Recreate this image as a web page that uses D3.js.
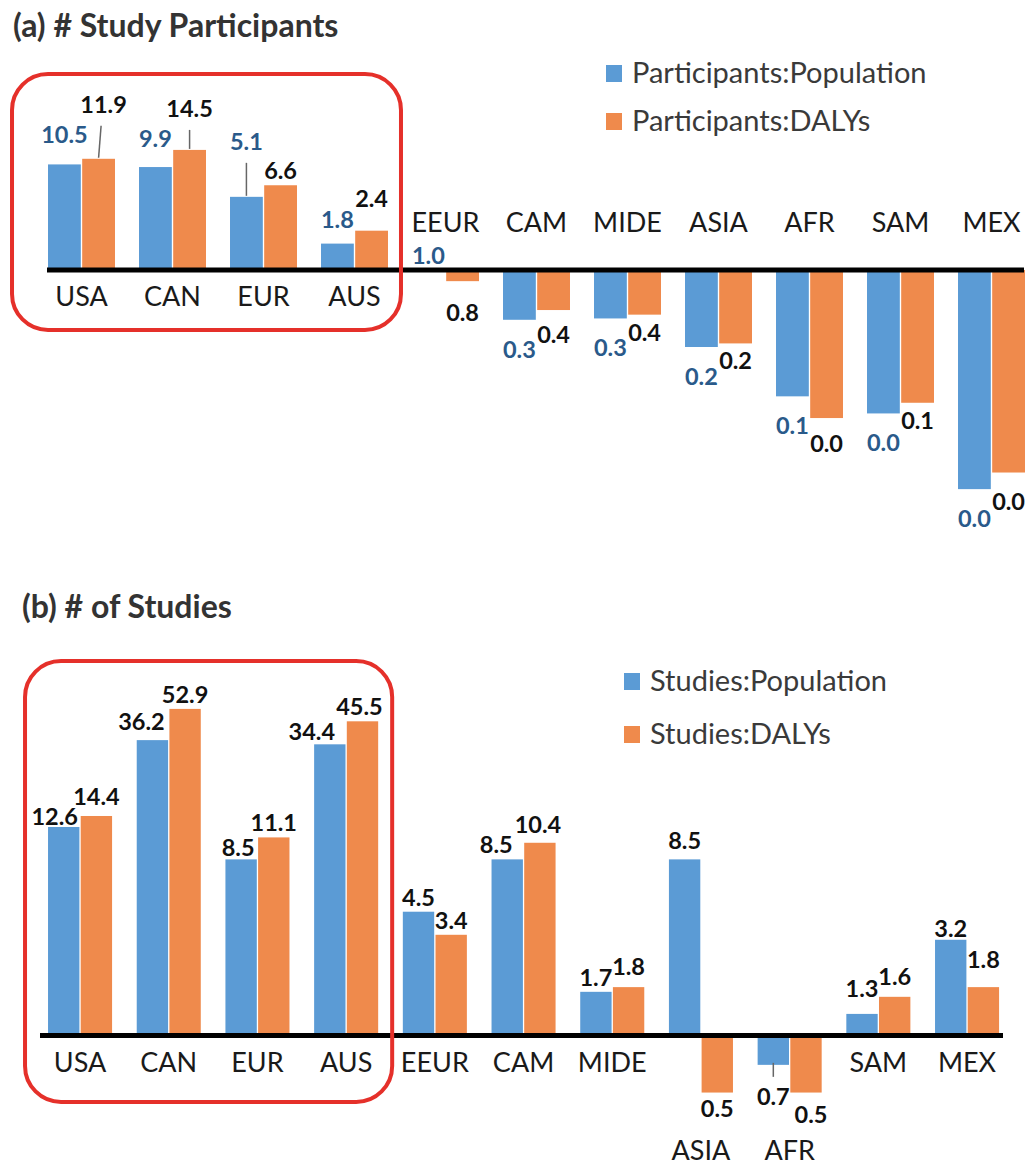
<!DOCTYPE html>
<html>
<head>
<meta charset="utf-8">
<script src="https://cdn.jsdelivr.net/npm/d3@7"></script>
<style>
  body { margin: 0; background: #fff; }
  svg { display: block; font-family: Lato, "Open Sans", sans-serif; }
</style>
</head>
<body>
<div id="chart"></div>
<script>
// regions, in the order of the figure
const regions = ['USA', 'CAN', 'EUR', 'AUS', 'EEUR', 'CAM', 'MIDE', 'ASIA', 'AFR', 'SAM', 'MEX'];
const highlighted = ['USA', 'CAN', 'EUR', 'AUS'];

// (a) participants ratios; labels show one decimal so the tiny ones read 0.0
const partPopulation = [10.5, 9.9, 5.1, 1.8, 1.0, 0.33, 0.34, 0.18, 0.06, 0.041, 0.0076];
const partDalys      = [11.9, 14.5, 6.6, 2.4, 0.78, 0.41, 0.37, 0.195, 0.037, 0.052, 0.011];

// (b) studies ratios
const studyPopulation = [12.6, 36.2, 8.5, 34.4, 4.5, 8.5, 1.7, 8.5, 0.7, 1.3, 3.2];
const studyDalys      = [14.4, 52.9, 11.1, 45.5, 3.4, 10.4, 1.8, 0.5, 0.5, 1.6, 1.8];

const legendA = ['Participants:Population', 'Participants:DALYs'];
const legendB = ['Studies:Population', 'Studies:DALYs'];

const colors = ['#5B9BD5', '#EF8A4C'];

// data labels were dragged by hand in the original: [dx, dy] from the default spot
const nudgesA = {
  'USA-0': [0, -15], 'USA-1': [5, -40], 'CAN-0': [0, -14], 'CAN-1': [0, -27],
  'EUR-0': [0, -41], 'AUS-0': [0, -10], 'AUS-1': [0, -18],
  'EEUR-1': [0, 14], 'CAM-1': [0, 7], 'AFR-1': [0, 8], 'MEX-1': [0, 11]
};
const nudgesB = {
  'USA-0': [-9, 4], 'USA-1': [0, -5], 'CAN-0': [-11, -4], 'EUR-0': [-3, 3],
  'AUS-0': [-18, 2], 'AUS-1': [-3, 0], 'CAM-0': [-11, 0], 'CAM-1': [-2, -4],
  'MIDE-1': [0, -6], 'ASIA-0': [0, -4], 'AFR-0': [0, 16], 'AFR-1': [5, 6],
  'SAM-0': [0, -11], 'SAM-1': [0, -6], 'MEX-0': [0, 3], 'MEX-1': [0, -13]
};

const panels = [
  {
    title: '(a) # Study Participants', titleX: 13, titleY: 37,
    series: [partPopulation, partDalys], legend: legendA,
    legendX: 606, legendY: 65, legendGap: 48,
    baseY: 270, decade: 103.4, xRange: [36, 1037], padInner: 0.264,
    axisX: [47, 1024], box: [74, 330, 36, 13],
    labelColors: ['#2A5A8A', '#111'], negOffset: [38, 26],
    nudges: nudgesA, leaders: ['USA-1', 'CAN-1', 'EUR-0'],
    negCats: 'above'
  },
  {
    title: '(b) # of Studies', titleX: 22, titleY: 618,
    series: [studyPopulation, studyDalys], legend: legendB,
    legendX: 624, legendY: 673, legendGap: 53,
    baseY: 1035.5, decade: 189.5, xRange: [35.7, 1011.4], padInner: 0.278,
    axisX: [40, 1003], box: [661, 1102, 23, 14],
    labelColors: ['#111', '#111'], negOffset: [24, 24],
    nudges: nudgesB, leaders: ['AFR-0'],
    negCats: 'bottom'
  }
];

const svg = d3.select('#chart').append('svg')
  .attr('width', 1029)
  .attr('height', 1165);

panels.forEach(function(p) {
  let g = svg.append('g');

  let x = d3.scaleBand()
    .domain(regions)
    .range(p.xRange)
    .paddingInner(p.padInner)
    .paddingOuter(p.padInner / 2);
  let xs = d3.scaleBand()
    .domain([0, 1])
    .range([0, x.bandwidth()])
    .paddingInner(0.04);
  // ratio 1 sits on the axis, one decade = p.decade px
  let y = d3.scaleLog()
    .domain([1, 10])
    .range([p.baseY, p.baseY - p.decade]);

  // title
  g.append('text')
    .attr('x', p.titleX)
    .attr('y', p.titleY)
    .attr('font-size', 32)
    .attr('font-weight', 'bold')
    .attr('fill', '#333')
    .text(p.title);

  // legend
  p.legend.forEach(function(name, i) {
    g.append('rect')
      .attr('x', p.legendX)
      .attr('y', p.legendY + i * p.legendGap)
      .attr('width', 16)
      .attr('height', 17)
      .attr('fill', colors[i]);
    g.append('text')
      .attr('x', p.legendX + 26)
      .attr('y', p.legendY + 18 + i * p.legendGap)
      .attr('font-size', 29)
      .attr('fill', '#3a3a3a')
      .text(name);
  });

  // bars
  let rows = [];
  regions.forEach(function(r, ci) {
    p.series.forEach(function(s, si) {
      rows.push({ region: r, s: si, v: s[ci] });
    });
  });

  g.selectAll('rect.bar').data(rows).enter().append('rect')
    .attr('class', 'bar')
    .attr('x', d => x(d.region) + xs(d.s))
    .attr('width', xs.bandwidth())
    .attr('y', d => Math.min(y(d.v), y(1)))
    .attr('height', d => Math.abs(y(d.v) - y(1)))
    .attr('fill', d => colors[d.s]);

  // axis line at ratio 1
  g.append('line')
    .attr('x1', p.axisX[0])
    .attr('x2', p.axisX[1])
    .attr('y1', y(1))
    .attr('y2', y(1))
    .attr('stroke', '#000')
    .attr('stroke-width', 5);

  // value labels
  rows.forEach(function(d) {
    let key = d.region + '-' + d.s;
    let nud = p.nudges[key] || [0, 0];
    let cx = x(d.region) + xs(d.s) + xs.bandwidth() / 2;
    let ty;
    if (d.v >= 1) ty = y(d.v) - 6;
    else ty = y(d.v) + p.negOffset[d.s];
    let lx = cx + nud[0], ly = ty + nud[1];

    if (p.leaders.indexOf(key) > -1) {
      let pos = d.v >= 1;
      g.append('line')
        .attr('x1', cx)
        .attr('y1', pos ? y(d.v) - 1 : y(d.v) - 2)
        .attr('x2', cx + nud[0] / 2)
        .attr('y2', pos ? ly + 13 : ly - 28)
        .attr('stroke', '#666')
        .attr('stroke-width', 1.5);
    }

    g.append('text')
      .attr('x', lx)
      .attr('y', ly)
      .attr('text-anchor', 'middle')
      .attr('font-size', 23.5)
      .attr('font-weight', 'bold')
      .attr('fill', p.labelColors[d.s])
      .text(d.v.toFixed(1));
  });

  // category labels: below the axis, or moved out of the way of downward bars
  regions.forEach(function(r, ci) {
    let vals = p.series.map(s => s[ci]);
    let lo = d3.min(vals);
    let ly = p.baseY + 36;
    if (lo < 1) {
      if (p.negCats == 'above') ly = p.baseY - 38;
      else ly = y(lo) + 67;
    }
    g.append('text')
      .attr('x', x(r) + x.bandwidth() / 2)
      .attr('y', ly)
      .attr('text-anchor', 'middle')
      .attr('font-size', 27)
      .attr('fill', '#1a1a1a')
      .text(r);
  });

  // red frame around the high-income group
  let bx0 = x(highlighted[0]) - p.box[2];
  let bx1 = x(highlighted[highlighted.length - 1]) + x.bandwidth() + p.box[3];
  g.append('rect')
    .attr('x', bx0)
    .attr('y', p.box[0])
    .attr('width', bx1 - bx0)
    .attr('height', p.box[1] - p.box[0])
    .attr('rx', 36)
    .attr('fill', 'none')
    .attr('stroke', '#E5302A')
    .attr('stroke-width', 4);
});
</script>
</body>
</html>
